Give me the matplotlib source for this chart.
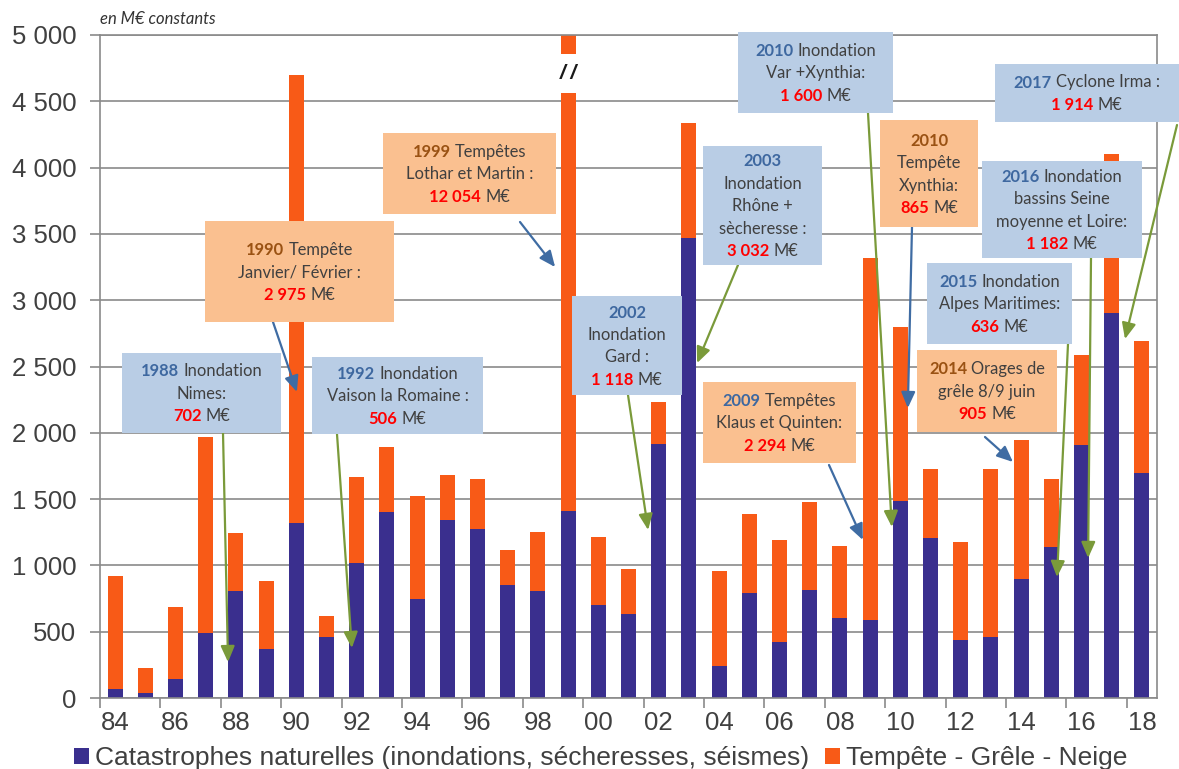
import matplotlib
matplotlib.use("Agg")
import matplotlib.pyplot as plt
from matplotlib.patches import Rectangle, Patch, ConnectionPatch
from matplotlib.transforms import IdentityTransform
from matplotlib.ticker import FuncFormatter, FixedLocator

# ---------------------------------------------------------------- data
years = list(range(1984, 2019))
# Catastrophes naturelles (inondations, sécheresses, séismes), M€ constants
catnat = [65, 40, 140, 490, 805, 370, 1320, 462, 1020, 1405,
          745, 1340, 1275, 855, 810, 1410, 705, 630, 1915, 3470,
          240, 790, 420, 815, 605, 585, 1485, 1205, 435, 462,
          900, 1140, 1910, 2905, 1695]
# Tempête - Grêle - Neige, M€ constants (1999 runs off the scale)
tempete = [855, 186, 545, 1480, 440, 510, 3380, 158, 650, 490,
           775, 340, 380, 260, 445, 12054, 510, 340, 320, 865,
           715, 595, 770, 660, 545, 2735, 1315, 520, 740, 1263,
           1045, 510, 675, 1195, 995]
y_ticks = list(range(0, 5001, 500))
x_label_years = list(range(1984, 2019, 2))
legend_labels = ["Catastrophes naturelles (inondations, sécheresses, séismes)",
                 "Tempête - Grêle - Neige"]
unit_label = "en M€ constants"

# ---------------------------------------------------------------- style
W, H = 1179, 769
C_CAT = "#3A2F8E"
C_TEM = "#F85A17"
C_GRID = "#8A8A8A"
C_TXT = "#404040"
BOX_BLUE = "#B9CDE5"
BOX_ORANGE = "#FAC090"
YEAR_BLUE = "#3E68A0"
YEAR_BROWN = "#9A5213"
ARROW_BLUE = "#3F6CA3"
ARROW_GREEN = "#7A9A3A"
VALUE_RED = "#FF0000"
BOX_FONT = "Lato"
BOX_SIZE = 11.9

fig = plt.figure(figsize=(W / 100, H / 100), dpi=100)
ax = fig.add_axes([100 / W, 71 / H, 1057 / W, 663 / H])

ax.bar(years, catnat, width=0.5, color=C_CAT, zorder=2)
ax.bar(years, tempete, width=0.5, bottom=catnat, color=C_TEM, zorder=2)

ax.set_xlim(1983.5, 2018.5)
ax.set_ylim(0, 5000)
ax.set_yticks(y_ticks)
ax.yaxis.set_major_formatter(FuncFormatter(lambda v, p: f"{int(v):,}".replace(",", " ")))
ax.set_xticks(x_label_years)
ax.set_xticklabels([f"{y % 100:02d}" for y in x_label_years])
ax.xaxis.set_minor_locator(FixedLocator([y - 0.5 for y in x_label_years]))

ax.tick_params(axis="y", length=7, width=1.2, color=C_GRID, pad=10,
               labelsize=18.5, labelcolor=C_TXT)
ax.tick_params(axis="x", which="major", length=0, pad=9,
               labelsize=18.5, labelcolor=C_TXT)
ax.tick_params(axis="x", which="minor", length=7, width=1.2, color=C_GRID)
for lab in ax.get_xticklabels() + ax.get_yticklabels():
    lab.set_family("Liberation Sans")

ax.yaxis.grid(True, color=C_GRID, lw=1.2)
ax.set_axisbelow(True)
for sp in ax.spines.values():
    sp.set_color(C_GRID)
    sp.set_linewidth(1.2)

# broken bar for 1999
ax.add_patch(Rectangle((1999 - 0.4, 4560), 0.8, 300, facecolor="white",
                       edgecolor="none", zorder=3))
ax.text(1999, 4712, "/ /", ha="center", va="center", fontsize=15,
        fontweight="bold", fontstyle="italic", color="#1a1a1a",
        family="Liberation Sans", zorder=4)

fig.text(100 / W, 1 - 19 / H, unit_label, ha="left", va="center",
         fontsize=12, fontstyle="italic", family="Lato", color="#333333")

# legend
handles = [Patch(facecolor=C_CAT), Patch(facecolor=C_TEM)]
fig.legend(handles, legend_labels, loc="center left",
           bbox_to_anchor=(74 / W, 1 - 758 / H), ncol=2, frameon=False,
           handlelength=0.55, handleheight=0.55, handletextpad=0.25,
           columnspacing=0.6, borderpad=0, borderaxespad=0,
           prop={"family": "Liberation Sans", "size": 19}, labelcolor=C_TXT)

# ---------------------------------------------------------------- callouts
renderer = fig.canvas.get_renderer()
LINE_H = 22.5
CAP = 11.5


def styles(year_color):
    return {
        "Y": dict(color=year_color, fontweight="bold"),
        "B": dict(color=C_TXT, fontweight="normal"),
        "V": dict(color=VALUE_RED, fontweight="bold"),
    }


probe_a = fig.text(0, 0, "xx", family=BOX_FONT, fontsize=BOX_SIZE, transform=IdentityTransform())
probe_b = fig.text(0, 0, "x x", family=BOX_FONT, fontsize=BOX_SIZE, transform=IdentityTransform())
GAP = probe_b.get_window_extent(renderer).width - probe_a.get_window_extent(renderer).width
probe_a.remove()
probe_b.remove()


def callout(box, face, year_color, lines, start, tip, arrow_color):
    x0, y0, x1, y1 = box
    fig.add_artist(Rectangle((x0, H - y1), x1 - x0, y1 - y0,
                             transform=IdentityTransform(), facecolor=face,
                             edgecolor="none", zorder=2))
    st = styles(year_color)
    cx, cy = (x0 + x1) / 2, (y0 + y1) / 2
    n = len(lines)
    for i, line in enumerate(lines):
        yc = cy + (i - (n - 1) / 2) * LINE_H
        items = []
        for s, kind in line:
            t = fig.text(0, 0, s, transform=IdentityTransform(), family=BOX_FONT,
                         fontsize=BOX_SIZE, ha="left", va="baseline", zorder=3,
                         **st[kind])
            items.append((t, t.get_window_extent(renderer).width))
        total = sum(w for _, w in items) + GAP * (len(items) - 1)
        x = cx - total / 2
        for t, w in items:
            t.set_position((x, H - yc - CAP / 2))
            x += w + GAP
    con = ConnectionPatch(xyA=(start[0], H - start[1]), coordsA="figure pixels",
                          xyB=tip, coordsB=ax.transData,
                          arrowstyle="-|>,head_length=0.8,head_width=0.35",
                          mutation_scale=12, lw=1.6, color=arrow_color,
                          shrinkA=0, shrinkB=0, zorder=1.5)
    fig.add_artist(con)


callout((122, 353, 281, 433), BOX_BLUE, YEAR_BLUE,
        [[("1988", "Y"), ("Inondation", "B")], [("Nimes:", "B")],
         [("702", "V"), ("M€", "B")]],
        (223, 433), (1987.74, 271), ARROW_GREEN)
callout((205, 221, 394, 322), BOX_ORANGE, YEAR_BROWN,
        [[("1990", "Y"), ("Tempête", "B")], [("Janvier/ Février :", "B")],
         [("2 975", "V"), ("M€", "B")]],
        (273, 322), (1990.02, 2308), ARROW_BLUE)
callout((312, 357, 483, 434), BOX_BLUE, YEAR_BLUE,
        [[("1992", "Y"), ("Inondation", "B")], [("Vaison la Romaine :", "B")],
         [("506", "V"), ("M€", "B")]],
        (337, 434), (1991.84, 377), ARROW_GREEN)
callout((383, 133, 556, 214), BOX_ORANGE, YEAR_BROWN,
        [[("1999", "Y"), ("Tempêtes", "B")], [("Lothar et Martin :", "B")],
         [("12 054", "V"), ("M€", "B")]],
        (520, 222), (1998.57, 3250), ARROW_BLUE)
callout((572, 296, 682, 395), BOX_BLUE, YEAR_BLUE,
        [[("2002", "Y")], [("Inondation", "B")], [("Gard :", "B")],
         [("1 118", "V"), ("M€", "B")]],
        (628, 395), (2001.65, 1267), ARROW_GREEN)
callout((703, 146, 822, 265), BOX_BLUE, YEAR_BLUE,
        [[("2003", "Y")], [("Inondation", "B")], [("Rhône +", "B")],
         [("sècheresse :", "B")], [("3 032", "V"), ("M€", "B")]],
        (738, 265), (2003.27, 2526), ARROW_GREEN)
callout((703, 382, 856, 463), BOX_ORANGE, YEAR_BLUE,
        [[("2009", "Y"), ("Tempêtes", "B")], [("Klaus et Quinten:", "B")],
         [("2 294", "V"), ("M€", "B")]],
        (829, 465), (2008.76, 1192), ARROW_BLUE)
callout((738, 32, 893, 113), BOX_BLUE, YEAR_BLUE,
        [[("2010", "Y"), ("Inondation", "B")], [("Var +Xynthia:", "B")],
         [("1 600", "V"), ("M€", "B")]],
        (868, 113), (2009.72, 1290), ARROW_GREEN)
callout((880, 120, 978, 227), BOX_ORANGE, YEAR_BROWN,
        [[("2010", "Y")], [("Tempête", "B")], [("Xynthia:", "B")],
         [("865", "V"), ("M€", "B")]],
        (912, 227), (2010.25, 2187), ARROW_BLUE)
callout((982, 161, 1142, 258), BOX_BLUE, YEAR_BLUE,
        [[("2016", "Y"), ("Inondation", "B")], [("bassins Seine", "B")],
         [("moyenne et Loire:", "B")], [("1 182", "V"), ("M€", "B")]],
        (1091, 258), (2016.22, 1056), ARROW_GREEN)
callout((927, 263, 1072, 344), BOX_BLUE, YEAR_BLUE,
        [[("2015", "Y"), ("Inondation", "B")], [("Alpes Maritimes:", "B")],
         [("636", "V"), ("M€", "B")]],
        (1068, 344), (2015.19, 912), ARROW_GREEN)
callout((917, 350, 1057, 432), BOX_ORANGE, YEAR_BROWN,
        [[("2014", "Y"), ("Orages de", "B")], [("grêle 8/9 juin", "B")],
         [("905", "V"), ("M€", "B")]],
        (985, 437), (2013.73, 1780), ARROW_BLUE)
callout((995, 64, 1179, 122), BOX_BLUE, YEAR_BLUE,
        [[("2017", "Y"), ("Cyclone Irma :", "B")],
         [("1 914", "V"), ("M€", "B")]],
        (1177, 125), (2017.44, 2707), ARROW_GREEN)

fig.savefig("out.png", dpi=100)
